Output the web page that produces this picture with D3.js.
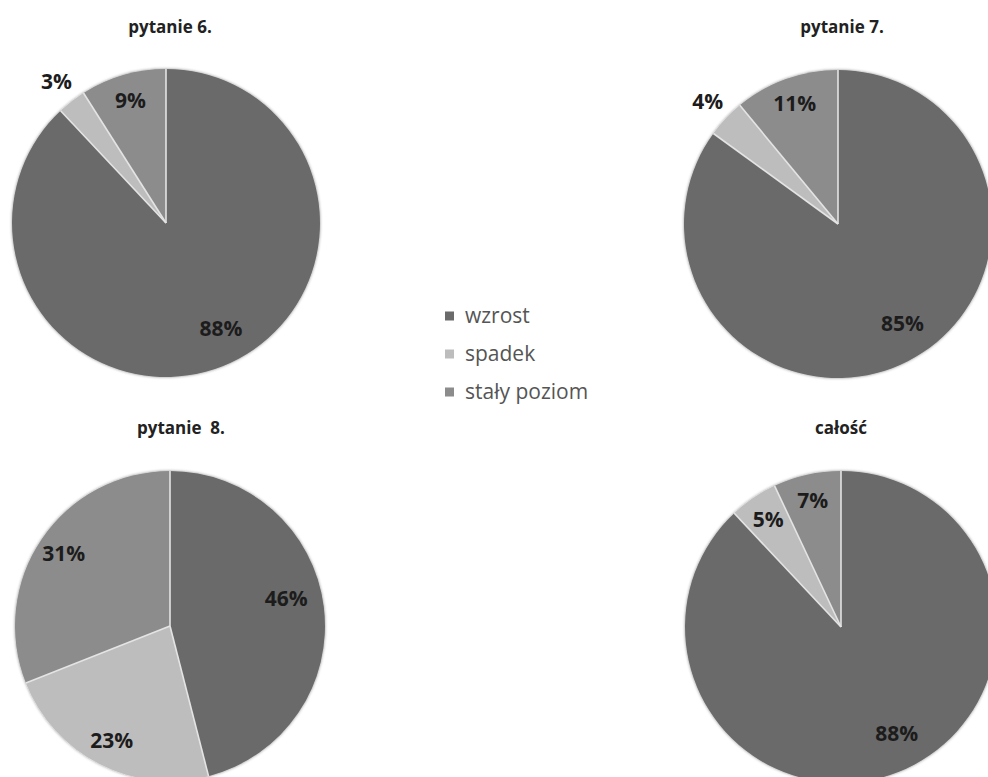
<!DOCTYPE html>
<html lang="pl">
<head>
<meta charset="utf-8">
<script src="https://cdn.jsdelivr.net/npm/d3@7"></script>
<style>
  html, body { margin: 0; padding: 0; background: #ffffff; }
  svg { display: block; }
</style>
</head>
<body>
<svg id="chart" width="988" height="777"></svg>
<script>
// Answer categories shared by every pie
const categories = ["wzrost", "spadek", "stały poziom"];
const categoryColors = ["#6b6b6b", "#bdbdbd", "#8c8c8c"];

// Chart titles
const titles = ["pytanie 6.", "pytanie 7.", "pytanie  8.", "całość"];

// Percent shares per chart, in category order
const pytanie6 = [88, 3, 9];
const pytanie7 = [85, 4, 11];
const pytanie8 = [46, 23, 31];
const calosc = [88, 5, 7];

const seriesList = [pytanie6, pytanie7, pytanie8, calosc];

// Layout of the 2x2 grid of pies
const layout = [
  { cx: 166, cy: 223, r: 154, titleX: 170, titleY: 33 },
  { cx: 838, cy: 224, r: 154, titleX: 842, titleY: 33 },
  { cx: 170, cy: 626, r: 155, titleX: 181, titleY: 434 },
  { cx: 841, cy: 627, r: 156, titleX: 841, titleY: 434 }
];

const svg = d3.select("#chart");

// Soft rim shadow around each pie
const defs = svg.append("defs");
const shadow = defs.append("filter").attr("id", "rim")
  .attr("x", "-10%").attr("y", "-10%").attr("width", "120%").attr("height", "120%");
shadow.append("feDropShadow")
  .attr("dx", 0).attr("dy", 0).attr("stdDeviation", 1.6)
  .attr("flood-color", "#000").attr("flood-opacity", 0.45);

const color = d3.scaleOrdinal().domain(categories).range(categoryColors);

const pie = d3.pie().sort(null).value(d => d.value).startAngle(0).endAngle(2 * Math.PI);

seriesList.forEach((values, i) => {
  const L = layout[i];
  const data = categories.map((c, k) => ({ category: c, value: values[k] }));
  const arcs = pie(data);
  const arc = d3.arc().innerRadius(0).outerRadius(L.r);

  const g = svg.append("g").attr("transform", `translate(${L.cx},${L.cy})`);

  g.append("g").attr("filter", "url(#rim)")
    .selectAll("path")
    .data(arcs)
    .join("path")
    .attr("d", arc)
    .attr("fill", d => color(d.data.category));

  // Light separators between slices, from the centre to the rim
  g.append("g")
    .selectAll("line")
    .data(arcs)
    .join("line")
    .attr("x1", 0).attr("y1", 0)
    .attr("x2", d => Math.sin(d.startAngle) * L.r)
    .attr("y2", d => -Math.cos(d.startAngle) * L.r)
    .attr("stroke", "#e4e4e4")
    .attr("stroke-width", 1.6);

  // Percentage labels: small slices go outside, large ones sit a bit ahead of their middle
  g.selectAll("text.val")
    .data(arcs)
    .join("text")
    .attr("class", "val")
    .each(function (d) {
      let a = (d.startAngle + d.endAngle) / 2;
      let k;
      if (d.data.value < 5) {
        k = 1.16;
      } else if (d.data.value >= 40) {
        k = 0.77;
        a -= 6 * Math.PI / 180;
      } else {
        k = 0.83;
      }
      d3.select(this)
        .attr("x", Math.sin(a) * L.r * k)
        .attr("y", -Math.cos(a) * L.r * k);
    })
    .attr("text-anchor", "middle")
    .attr("dy", "0.36em")
    .attr("font-family", "'Open Sans', sans-serif")
    .attr("font-weight", 700)
    .attr("font-size", 21)
    .attr("fill", "#1c1c1c")
    .text(d => d.data.value + "%");

  svg.append("text")
    .attr("x", L.titleX)
    .attr("y", L.titleY)
    .attr("text-anchor", "middle")
    .attr("font-family", "'Open Sans', sans-serif")
    .attr("font-weight", 700)
    .attr("font-size", 17)
    .attr("fill", "#222")
    .attr("xml:space", "preserve")
    .style("white-space", "pre")
    .text(titles[i]);
});

// Legend in the middle of the grid
const legend = svg.append("g").attr("transform", "translate(445,316)");
const rows = legend.selectAll("g")
  .data(categories)
  .join("g")
  .attr("transform", (d, k) => `translate(0,${k * 38})`);

rows.append("rect")
  .attr("x", 0).attr("y", -4.5)
  .attr("width", 9).attr("height", 9)
  .attr("fill", d => color(d));

rows.append("text")
  .attr("x", 20)
  .attr("dy", "0.35em")
  .attr("font-family", "'Open Sans', sans-serif")
  .attr("font-size", 21)
  .attr("fill", "#555")
  .text(d => d);
</script>
</body>
</html>
